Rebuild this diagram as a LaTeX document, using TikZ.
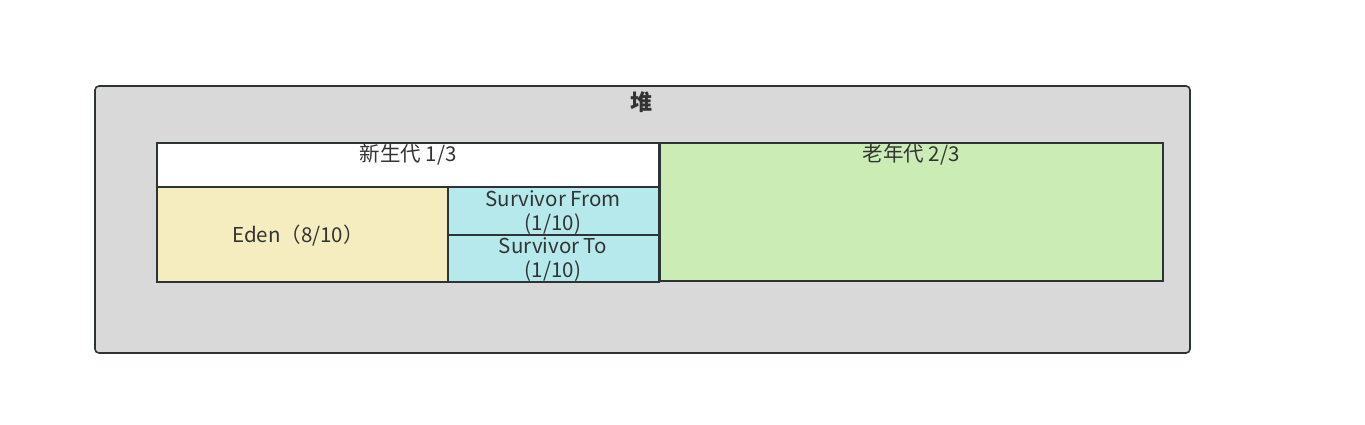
\documentclass[tikz,border=0pt]{standalone}
\usepackage{fontspec}
\setmainfont{Noto Sans CJK SC}
\definecolor{strk}{HTML}{2D3436}
\definecolor{heapbg}{HTML}{D9D9D9}
\definecolor{edenc}{HTML}{F5ECC0}
\definecolor{survc}{HTML}{B5E9EB}
\definecolor{oldc}{HTML}{CBEDB5}
\definecolor{txt}{HTML}{333333}
\tikzset{
  box/.style={draw=strk, line width=1.6pt, inner sep=0pt},
  lbl/.style={text=txt, font=\fontsize{20.5}{24}\selectfont, inner sep=0pt, align=center},
}
\begin{document}
\begin{tikzpicture}[x=1pt,y=-1pt]
\useasboundingbox (0,0) rectangle (1365,425);
\path[box, fill=heapbg, rounded corners=4pt] (95,86) rectangle (1190,353);
\node[lbl, font=\bfseries\fontsize{22}{26}\selectfont] (heap) at (641,102) {堆};
\path[box, fill=white] (157,143) rectangle (659,187);
\node[lbl] (young) at (408,155) {新生代 1/3};
\path[box, fill=edenc] (157,187) rectangle (448,282);
\node[lbl] (eden) at (298,236) {Eden（8/10）};
\path[box, fill=survc] (448,187) rectangle (659,235);
\node[lbl] (from) at (553,199) {Survivor From};
\node[lbl] (from2) at (553,224) {(1/10)};
\path[box, fill=survc] (448,235) rectangle (659,282);
\node[lbl] (to) at (553,246) {Survivor To};
\node[lbl] (to2) at (553,271) {(1/10)};
\path[box, fill=oldc] (660,143) rectangle (1163,281);
\node[lbl] (old) at (911,155) {老年代 2/3};
\end{tikzpicture}
\end{document}
